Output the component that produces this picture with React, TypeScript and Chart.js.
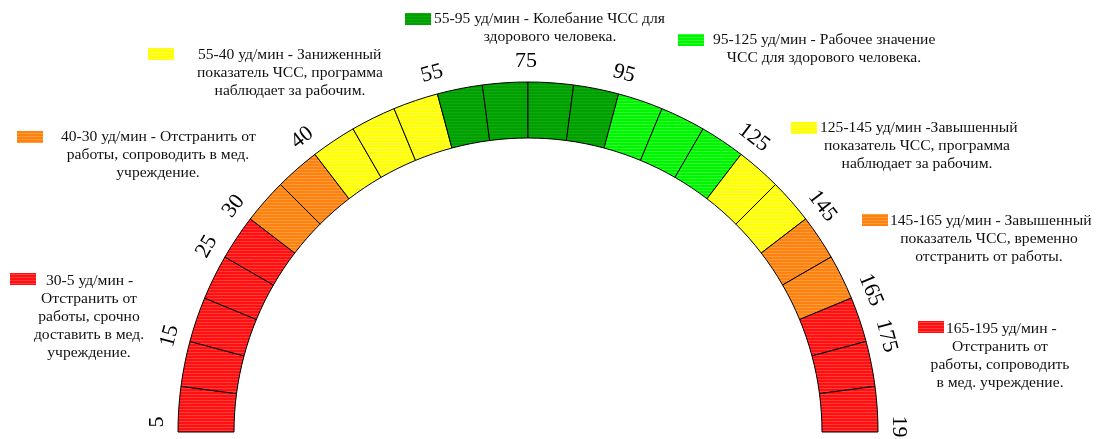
import React, { useEffect, useRef } from "react";
import { Chart, registerables } from "chart.js";

Chart.register(...registerables);

// Segment start values (bpm); every segment occupies an equal slice of the gauge
const segmentStarts = [5, 10, 15, 20, 25, 30, 35, 40, 45, 50, 55, 65, 75, 85, 95, 105, 115, 125, 135, 145, 155, 165, 175, 185];
const segmentWeights = [1, 1, 1, 1, 1, 1, 1, 1, 1, 1, 1, 1, 1, 1, 1, 1, 1, 1, 1, 1, 1, 1, 1, 1];
const segmentZones = ["red", "red", "red", "red", "red", "orange", "orange", "yellow", "yellow", "yellow", "dgreen", "dgreen", "dgreen", "dgreen", "lgreen", "lgreen", "lgreen", "yellow", "yellow", "orange", "orange", "red", "red", "red"];

// Tick labels and the segment boundary index at which each one sits
const tickLabels = ["5", "15", "25", "30", "40", "55", "75", "95", "125", "145", "165", "175", "195"];
const tickBoundaries = [0, 2, 4, 5, 7, 10, 12, 14, 17, 19, 21, 22, 24];
// small shift of each label along its reading direction (layout only)
const tickShift = [10, 0, 0, 0, 0, 0, -2, 0, 0, 0, 0, 0, 0];

// Legend entries
const legendZones = ["yellow", "orange", "dgreen", "lgreen", "yellow", "orange", "red", "red"];
const legendTexts = [
  ["55-40 уд/мин - Заниженный", "показатель ЧСС, программа", "наблюдает за рабочим."],
  ["40-30 уд/мин - Отстранить от", "работы, сопроводить в мед.", "учреждение."],
  ["55-95 уд/мин - Колебание ЧСС для", "здорового человека."],
  ["95-125 уд/мин - Рабочее значение", "ЧСС для здорового человека."],
  ["125-145 уд/мин -Завышенный", "показатель ЧСС, программа", "наблюдает за рабочим."],
  ["145-165 уд/мин - Завышенный", "показатель ЧСС, временно", "отстранить от работы."],
  ["30-5 уд/мин -", "Отстранить от", "работы, срочно", "доставить в мед.", "учреждение."],
  ["165-195 уд/мин -", "Отстранить от", "работы, сопроводить", "в мед. учреждение."],
];

// Layout of legend blocks (box position, first-line start, centre of other lines, first line y)
const legendLayout = [
  { bx: 148, by: 48, fx: 198, cx: 290, y: 55 },
  { bx: 17, by: 131, fx: 61, cx: 158, y: 137 },
  { bx: 405, by: 13, fx: 434, cx: 550, y: 19 },
  { bx: 678, by: 34, fx: 713, cx: 824, y: 40 },
  { bx: 791, by: 122, fx: 820, cx: 917, y: 128 },
  { bx: 862, by: 214, fx: 890, cx: 989, y: 221 },
  { bx: 10, by: 273, fx: 46, cx: 89, y: 281 },
  { bx: 918, by: 321, fx: 946, cx: 1000, y: 329 },
];

const zoneColors: Record<string, [string, string]> = {
  red: ["#FF1010", "#FF3C3C"],
  orange: ["#FF8210", "#FF9C3C"],
  yellow: ["#FFFF00", "#FFFF4A"],
  dgreen: ["#00A000", "#10AA10"],
  lgreen: ["#00F500", "#30FF30"],
};

function makePattern(base: string, streak: string): CanvasPattern | string {
  const c = document.createElement("canvas");
  c.width = 6;
  c.height = 3;
  const g = c.getContext("2d");
  if (!g) return base;
  g.fillStyle = base;
  g.fillRect(0, 0, 6, 3);
  g.fillStyle = streak;
  g.fillRect(0, 1, 6, 1);
  const p = g.createPattern(c, "repeat");
  return p || base;
}

const FONT = '"Liberation Serif", "Times New Roman", serif';

export default function App() {
  const ref = useRef<HTMLCanvasElement | null>(null);
  useEffect(() => {
    if (!ref.current) return;
    const patterns: Record<string, CanvasPattern | string> = {};
    Object.keys(zoneColors).forEach((k) => {
      patterns[k] = makePattern(zoneColors[k][0], zoneColors[k][1]);
    });

    const overlay = {
      id: "gaugeOverlay",
      afterDraw(chart: any) {
        const ctx = chart.ctx as CanvasRenderingContext2D;
        const meta = chart.getDatasetMeta(0);
        const arcs = meta.data as any[];
        if (!arcs.length) return;
        const cx = arcs[0].x;
        const cy = arcs[0].y;
        const outer = arcs[0].outerRadius;
        ctx.save();
        ctx.fillStyle = "#000";
        ctx.font = `22px ${FONT}`;
        ctx.textAlign = "center";
        ctx.textBaseline = "middle";
        tickLabels.forEach((lab, i) => {
          const k = tickBoundaries[i];
          const a = k === 0 ? arcs[0].startAngle : arcs[k - 1].endAngle;
          const r = outer + 21;
          ctx.save();
          ctx.translate(cx + r * Math.cos(a), cy + r * Math.sin(a));
          ctx.rotate(a + Math.PI / 2);
          ctx.fillText(lab, tickShift[i], 0);
          ctx.restore();
        });

        ctx.font = `15.6px ${FONT}`;
        legendTexts.forEach((lines, i) => {
          const L = legendLayout[i];
          ctx.fillStyle = patterns[legendZones[i]] as any;
          ctx.fillRect(L.bx, L.by, 26, 12);
          ctx.fillStyle = "#111";
          lines.forEach((t, j) => {
            const y = L.y + j * 18;
            if (j === 0) {
              ctx.textAlign = "left";
              ctx.fillText(t, L.fx, y);
            } else {
              ctx.textAlign = "center";
              ctx.fillText(t, L.cx, y);
            }
          });
        });
        ctx.restore();
      },
    };

    const chart = new Chart(ref.current, {
      type: "doughnut",
      data: {
        labels: segmentStarts.map((s, i) => `${s}-${i + 1 < segmentStarts.length ? segmentStarts[i + 1] : 195}`),
        datasets: [
          {
            data: segmentWeights,
            backgroundColor: segmentZones.map((z) => patterns[z]) as any,
            borderColor: "#000",
            borderWidth: 1,
            borderAlign: "center",
          } as any,
        ],
      },
      options: {
        responsive: false,
        animation: false,
        circumference: 180,
        rotation: -90,
        cutout: "84%",
        radius: 350,
        layout: { padding: { left: 0, right: 42, top: 75, bottom: 0 } },
        plugins: {
          legend: { display: false },
          tooltip: { enabled: false },
          title: { display: false },
        },
      } as any,
      plugins: [overlay],
    });
    return () => chart.destroy();
  }, []);

  return (
    <div style={{ position: "absolute", left: 0, top: 0, width: 1098, height: 439, background: "#fff" }}>
      <canvas ref={ref} width={1098} height={439} style={{ display: "block" }} />
    </div>
  );
}
